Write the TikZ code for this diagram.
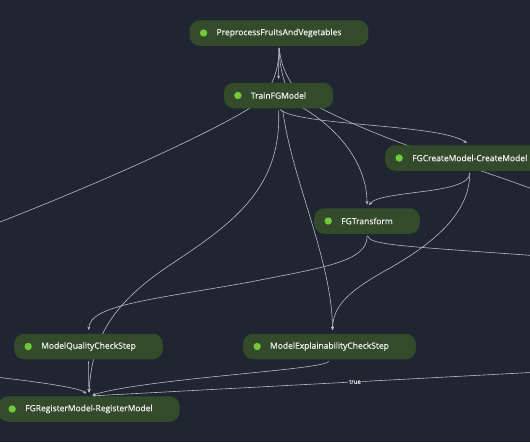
\documentclass[tikz,border=0pt]{standalone}
\usepackage{fontspec}
\setmainfont{Open Sans}
\newfontfamily\stepfont{Open Sans}[FakeBold=0.5]
\usepackage{tikz}
\usetikzlibrary{arrows.meta}
\usepackage{xcolor}
\definecolor{bgc}{RGB}{31,38,50}
\definecolor{stepfill}{RGB}{51,74,43}
\definecolor{dotgreen}{RGB}{112,200,58}
\definecolor{edgec}{RGB}{182,186,194}
\definecolor{txtc}{RGB}{240,240,240}
\pgfdeclarelayer{bg}
\pgfdeclarelayer{edges}
\pgfsetlayers{bg,edges,main}

\begin{document}
\begin{tikzpicture}[x=1pt, y=-1pt,
    stepnode/.style={fill=stepfill, rounded corners=10pt, minimum height=25.5pt,
        inner xsep=27pt, inner ysep=0pt, text=txtc, font=\stepfont\fontsize{8.5}{10}\selectfont,
        path picture={\fill[dotgreen] ([xshift=14pt]path picture bounding box.west) circle (3.7pt);}},
    edge/.style={draw=edgec, line width=0.6pt, -{Stealth[length=3.5pt,width=3pt]},
        shorten <=2pt, shorten >=3.5pt},
    lbl/.style={fill=bgc, text=txtc, inner sep=1.5pt, font=\stepfont\fontsize{6}{7}\selectfont}]
    \useasboundingbox (0,0) rectangle (530,442);
    \begin{pgfonlayer}{bg}
        \fill[bgc] (0,0) rectangle (530,442);
    \end{pgfonlayer}

    \node[stepnode] (pre) at (279,33) {PreprocessFruitsAndVegetables};
    \node[stepnode] (train) at (278.5,95.5) {TrainFGModel};
    \node[stepnode, anchor=west] (create) at (385,158) {FGCreateModel-CreateModel};
    \node[stepnode] (transform) at (367,221) {FGTransform};
    \node[stepnode] (mq) at (88.5,346.5) {ModelQualityCheckStep};
    \node[stepnode] (me) at (329.5,346.5) {ModelExplainabilityCheckStep};
    \node[stepnode, anchor=west] (reg) at (-2,409) {FGRegisterModel-RegisterModel};

    \coordinate (offL) at (-5,224);
    \coordinate (offLb) at (-5,377);
    \coordinate (offR) at (540,192);
    \coordinate (offRb) at (540,256);
    \coordinate (offRc) at (540,372);

    \begin{pgfonlayer}{edges}
    \draw[edge] (pre.south) -- (train.north);
    \draw[edge, -] (pre.south) .. controls (279,80) and (265,98) .. (250,108)
        .. controls (215,130) and (120,175) .. (offL);
    \draw[edge] (pre.south) .. controls (280,80) and (290,100) .. (303,108)
        .. controls (340,130) and (367,165) .. (transform.north);
    \draw[edge, -] (pre.south) .. controls (282,78) and (300,98) .. (320,108)
        .. controls (400,148) and (470,165) .. (offR);
    \draw[edge] (train.south) .. controls (300,126) and (440,124) .. (create.north);
    \draw[edge] (train.south) .. controls (282,190) and (230,225) .. (170,265)
        .. controls (110,305) and (92,340) .. (reg.north);
    \draw[edge] ([xshift=4pt]train.south) .. controls (292,180) and (332,260) .. ([xshift=3pt]me.north);
    \draw[edge] (create.south) .. controls (470,195) and (380,190) .. (transform.north);
    \draw[edge] (create.south) .. controls (470,215) and (430,245) .. (390,268)
        .. controls (350,290) and (333,305) .. ([xshift=3pt]me.north);
    \draw[edge] (transform.south) .. controls (368,262) and (320,268) .. (250,282)
        .. controls (150,300) and (90,305) .. (mq.north);
    \draw[edge, -] (transform.south) .. controls (370,245) and (400,246) .. (offRb);
    \draw[edge] (mq.south) -- (reg.north);
    \draw[edge] (me.south) .. controls (325,370) and (150,378) .. (reg.north);
    \draw[edge, shorten <=0pt] (offLb) .. controls (40,382) and (80,388) .. (reg.north);
    \draw[edge, shorten <=0pt] (offRc) -- node[lbl, pos=0.41] {true} (reg.north);
    \end{pgfonlayer}
\end{tikzpicture}
\end{document}
